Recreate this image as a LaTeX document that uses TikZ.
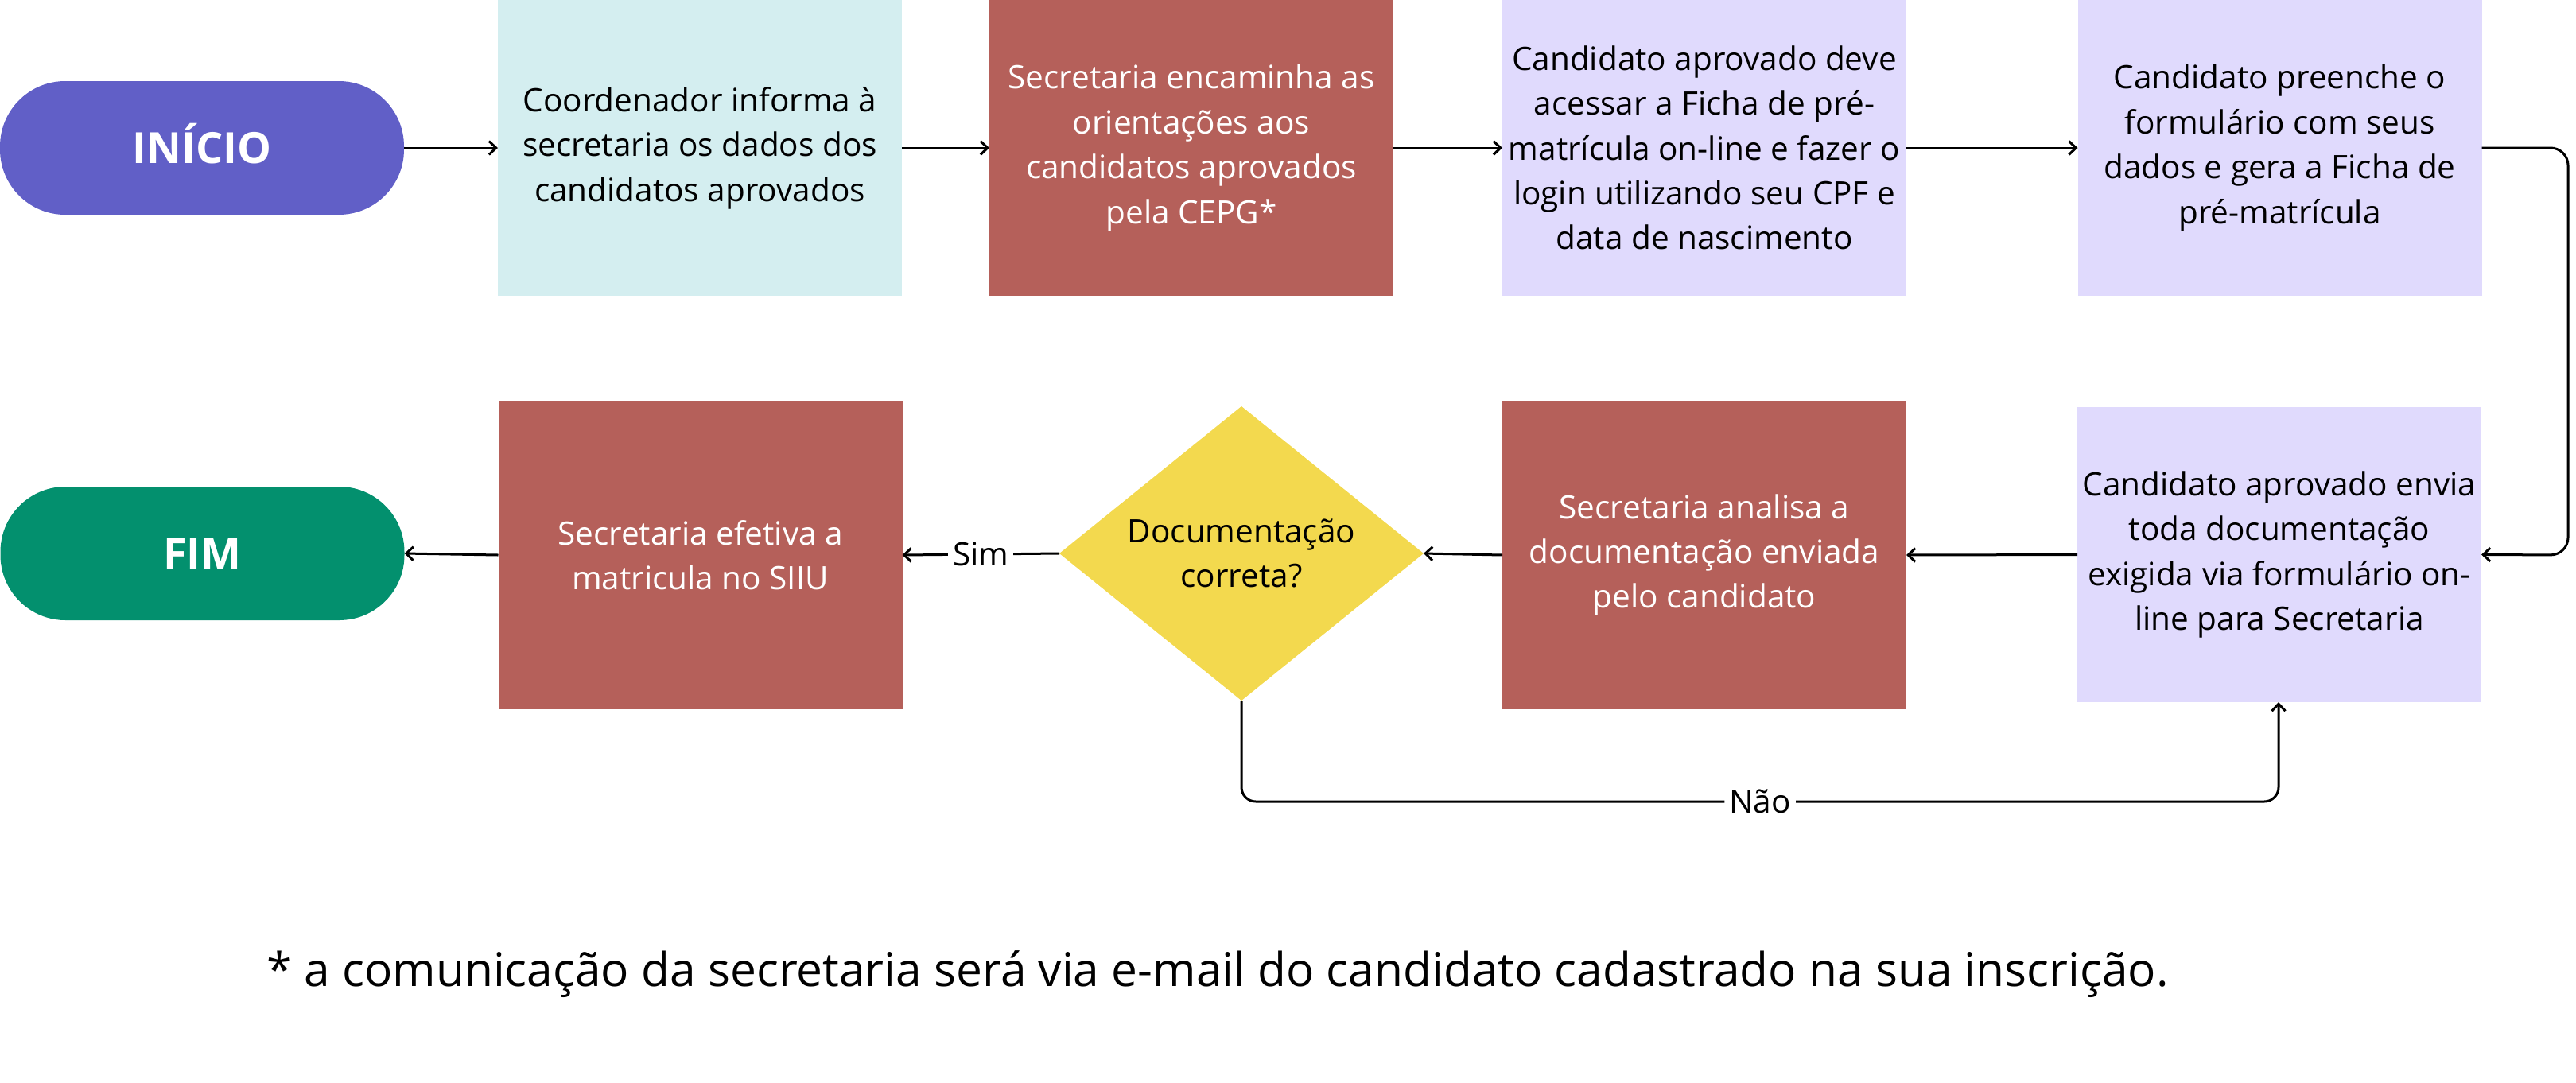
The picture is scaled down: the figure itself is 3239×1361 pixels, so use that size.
\documentclass[tikz,border=0pt]{standalone}
\usepackage{fontspec}
\setmainfont{Open Sans}
\usetikzlibrary{arrows.meta,shapes.geometric}
\definecolor{cstart}{HTML}{615FC7}
\definecolor{cend}{HTML}{03906E}
\definecolor{ccyan}{HTML}{D4EEF0}
\definecolor{cred}{HTML}{B5605A}
\definecolor{clav}{HTML}{E0DAFD}
\definecolor{cyel}{HTML}{F3D94E}
\tikzset{
  boxtext/.style={font=\fontsize{40.5}{56.4}\selectfont, align=center},
  procbox/.style={boxtext, rectangle, inner sep=0pt, outer sep=0pt, minimum width=508pt, minimum height=372pt},
  cyanbox/.style={procbox, fill=ccyan, text=black},
  redbox/.style={procbox, fill=cred, text=white, minimum height=388pt},
  lavbox/.style={procbox, fill=clav, text=black},
  pill/.style={rectangle, rounded corners=82pt, inner sep=0pt, outer sep=0pt, minimum width=508pt, minimum height=168pt, text height=38.6pt, text depth=0pt, text=white, font=\bfseries\fontsize{54}{60}\selectfont},
  decision/.style={boxtext, diamond, aspect=1.24, inner sep=0pt, outer sep=0pt, fill=cyel, minimum width=458pt, minimum height=370pt},
  conn/.style={line width=3pt, -{Straight Barb[length=9pt,width=17pt,line width=3pt]}},
  edgelabel/.style={font=\fontsize{40.5}{44}\selectfont, fill=white, inner sep=6pt}
}
\begin{document}
\begin{tikzpicture}[x=1pt,y=-1pt]
\useasboundingbox (0,0) rectangle (3239,1361);
% top row
\node[pill, fill=cstart] (ini) at (254,186) {INÍCIO};
\node[cyanbox] (b1) at (880,186) {Coordenador informa à\\secretaria os dados dos\\candidatos aprovados};
\node[redbox, minimum height=372pt] (b2) at (1498,186) {Secretaria encaminha as\\orientações aos\\candidatos aprovados\\pela CEPG*};
\node[lavbox] (b3) at (2143,186) {Candidato aprovado deve\\acessar a Ficha de pré-\\matrícula on-line e fazer o\\login utilizando seu CPF e\\data de nascimento};
\node[lavbox] (b4) at (2866.5,186) {Candidato preenche o\\formulário com seus\\dados e gera a Ficha de\\pré-matrícula};
% bottom row
\node[lavbox, minimum height=371pt] (b6) at (2866,697.5) {Candidato aprovado envia\\toda documentação\\exigida via formulário on-\\line para Secretaria};
\node[redbox] (b5) at (2143,698) {Secretaria analisa a\\documentação enviada\\pelo candidato};
\node[decision] (d) at (1561,696) {Documentação\\correta?};
\node[redbox] (b7) at (880.5,698) {Secretaria efetiva a\\matricula no SIIU};
\node[pill, fill=cend] (fim) at (254.5,696) {FIM};
% connectors
\draw[conn] (ini.east) -- (b1.west);
\draw[conn] (b1.east) -- (b2.west);
\draw[conn] (b2.east) -- (b3.west);
\draw[conn] (b3.east) -- (b4.west);
\coordinate (rtop) at (3229,186);
\coordinate (rbot) at (3229,698);
\draw[conn, rounded corners=22pt] (b4.east) -- (rtop) -- (rbot) -- (b6.east);
\draw[conn] (b6.west) -- (b5.east);
\draw[conn] (b5.west) -- (d.east);
\draw[conn] (d.west) -- node[edgelabel] (sim) {Sim} (b7.east);
\draw[conn] (b7.west) -- (fim.east);
\coordinate (nl) at (1561,1008);
\coordinate (nr) at (2865,1008);
\draw[conn, rounded corners=18pt] (d.south) -- (nl) -- node[edgelabel, pos=0.5] (nao) {Não} (nr) -- (b6.south -| nr);
% footnote
\node[font=\fontsize{58.6}{64}\selectfont, inner sep=0pt] (note) at (1531,1225) {* a comunicação da secretaria será via e-mail do candidato cadastrado na sua inscrição.};
\end{tikzpicture}
\end{document}
